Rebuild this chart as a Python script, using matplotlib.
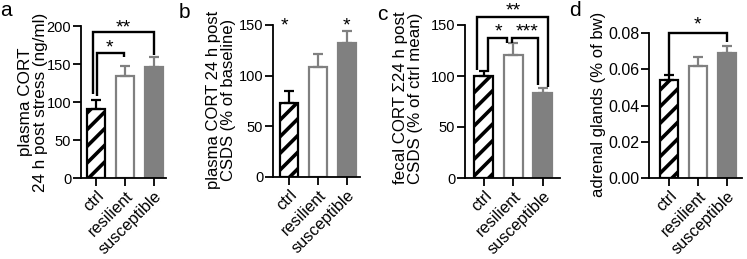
import matplotlib
matplotlib.use("Agg")
import matplotlib.pyplot as plt

plt.rcParams['font.family'] = ['Liberation Sans', 'DejaVu Sans']
plt.rcParams['hatch.linewidth'] = 2.6

categories = ["ctrl", "resilient", "susceptible"]

a_means = [91, 134, 146]
a_errs = [12, 14, 13]
b_means = [73, 109, 132]
b_errs = [12, 12, 12]
c_means = [100, 121, 83]
c_errs = [5, 11, 5]
d_means = [0.054, 0.062, 0.069]
d_errs = [0.003, 0.005, 0.004]

a_ticks = [0, 50, 100, 150, 200]
b_ticks = [0, 50, 100, 150]
c_ticks = [0, 50, 100, 150]
d_ticks = [0.00, 0.02, 0.04, 0.06, 0.08]

a_ylabel = "plasma CORT\n24 h post stress (ng/ml)"
b_ylabel = "plasma CORT 24 h post\nCSDS (% of baseline)"
c_ylabel = "fecal CORT \u03a324 h post\nCSDS (% of ctrl mean)"
d_ylabel = "adrenal glands (% of bw)"

W, H = 747, 259
fig = plt.figure(figsize=(W / 100, H / 100), dpi=100)

GRAY = '#808080'
facecolors = ['white', 'white', GRAY]
edgecolors = ['black', GRAY, GRAY]
hatches = ['//', None, None]


def make_ax(l, r, t, b):
    return fig.add_axes([l / W, 1 - b / H, (r - l) / W, (b - t) / H])


def draw(ax, means, errs, ticks, xlim, fmt=None, ysize=10.5, xsize=11.7):
    x = list(range(len(categories)))
    for i in x:
        ax.bar(i, means[i], width=0.64, color=facecolors[i], edgecolor=edgecolors[i],
               hatch=hatches[i], linewidth=1.6, zorder=2)
        ax.errorbar(i, means[i], yerr=[[0], [errs[i]]], color=edgecolors[i],
                    capsize=3.6, elinewidth=1.6, capthick=1.6, zorder=3)
    ax.set_xlim(*xlim)
    ax.set_ylim(ticks[0], ticks[-1])
    ax.set_yticks(ticks)
    if fmt:
        ax.set_yticklabels([fmt.format(t) for t in ticks])
    ax.set_xticks(x)
    ax.set_xticklabels(categories, rotation=45, ha='right', rotation_mode='anchor')
    for s in ['top', 'right']:
        ax.spines[s].set_visible(False)
    for s in ['left', 'bottom']:
        ax.spines[s].set_linewidth(1.3)
        ax.spines[s].set_zorder(5)
    ax.tick_params(axis='both', width=1.3, length=5.5, pad=1.5)
    ax.tick_params(axis='y', labelsize=ysize)
    ax.tick_params(axis='x', labelsize=xsize, pad=2)


def bracket(ax, x1, x2, y, y1, y2, lw=1.7):
    ax.plot([x1, x1, x2, x2], [y1, y, y, y2], color='black', lw=lw, clip_on=False,
            solid_joinstyle='miter', solid_capstyle='butt', zorder=4)


def star(ax, x, y, text):
    ax.text(x, y, text, ha='center', va='center', fontsize=14, clip_on=False)


ax_a = make_ax(81, 166, 26, 178)
draw(ax_a, a_means, a_errs, a_ticks, (-0.52, 2.41))
bracket(ax_a, -0.1, 2.0, 192, 110, 162)
star(ax_a, 0.95, 198, "**")
bracket(ax_a, 0.03, 0.95, 164, 108, 159)
star(ax_a, 0.45, 171, "*")

ax_b = make_ax(273, 360, 25, 177)
draw(ax_b, b_means, b_errs, b_ticks, (-0.55, 2.45))
star(ax_b, -0.15, 149, "*")
star(ax_b, 2.0, 149, "*")

ax_c = make_ax(465, 560, 25, 178)
draw(ax_c, c_means, c_errs, c_ticks, (-0.64, 2.58))
bracket(ax_c, -0.24, 2.17, 158, 106, 89)
star(ax_c, 1.0, 164, "**")
bracket(ax_c, 0.14, 0.8, 137, 104, 132)
star(ax_c, 0.5, 143, "*")
bracket(ax_c, 0.95, 1.85, 137, 132, 91)
star(ax_c, 1.45, 143, "***")

ax_d = make_ax(649, 742, 33, 178)
draw(ax_d, d_means, d_errs, d_ticks, (-0.69, 2.52), fmt="{:.2f}", ysize=11.5)
bracket(ax_d, 0.0, 2.0, 0.08, 0.057, 0.075)
star(ax_d, 1.0, 0.0845, "*")


def ylab(x, y, s, size):
    fig.text(x / W, 1 - y / H, s, rotation=90, ha='center', va='center',
             multialignment='center', fontsize=size, linespacing=0.95)


ylab(33, 102, a_ylabel, 12.3)
ylab(221, 100, b_ylabel, 12)
ylab(408, 98, c_ylabel, 12.2)
ylab(599, 104, d_ylabel, 12)

for x, y, s in [(6, 11, 'a'), (184, 12, 'b'), (382, 14, 'c'), (575, 10, 'd')]:
    fig.text(x / W, 1 - y / H, s, ha='center', va='center', fontsize=15)

fig.savefig("out.png", dpi=100)
